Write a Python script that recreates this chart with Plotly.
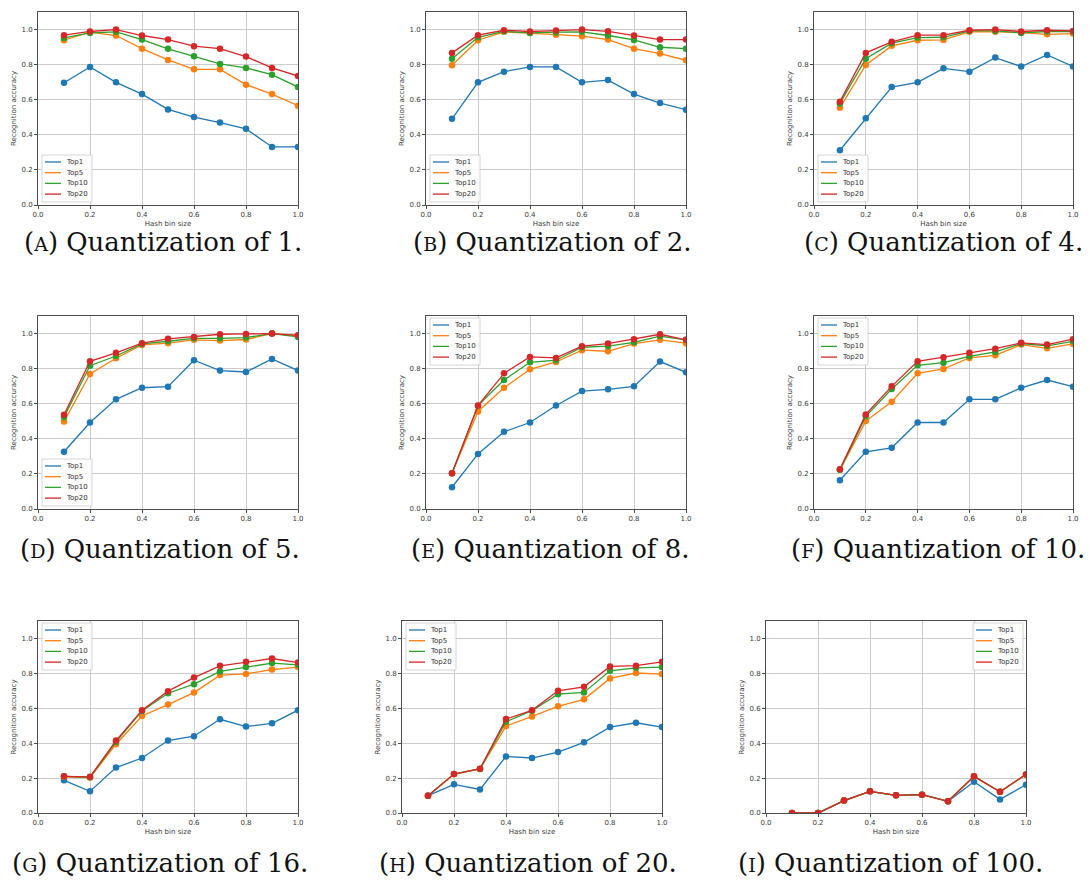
import plotly.graph_objects as go

# ---------------- data ----------------
hash_bin_sizes = [0.1, 0.2, 0.3, 0.4, 0.5, 0.6, 0.7, 0.8, 0.9, 1.0]
series_names = ["Top1", "Top5", "Top10", "Top20"]
x_ticks = [0.0, 0.2, 0.4, 0.6, 0.8, 1.0]
y_ticks = [0.0, 0.2, 0.4, 0.6, 0.8, 1.0]
tick_labels = ["0.0", "0.2", "0.4", "0.6", "0.8", "1.0"]
panel_letters = ["A", "B", "C", "D", "E", "F", "G", "H", "I"]
quantizations = ["1", "2", "4", "5", "8", "10", "16", "20", "100"]

# Quantization of 1
q1_top1 = [0.697, 0.787, 0.699, 0.632, 0.545, 0.501, 0.470, 0.434, 0.331, 0.331]
q1_top5 = [0.939, 0.985, 0.966, 0.891, 0.827, 0.773, 0.773, 0.686, 0.632, 0.566]
q1_top10 = [0.952, 0.981, 0.987, 0.943, 0.890, 0.848, 0.804, 0.781, 0.743, 0.672]
q1_top20 = [0.968, 0.989, 1.000, 0.966, 0.943, 0.905, 0.891, 0.846, 0.781, 0.735]
# Quantization of 2
q2_top1 = [0.491, 0.699, 0.760, 0.787, 0.787, 0.699, 0.712, 0.632, 0.581, 0.543]
q2_top5 = [0.796, 0.939, 0.987, 0.981, 0.971, 0.962, 0.943, 0.891, 0.863, 0.825]
q2_top10 = [0.834, 0.956, 0.990, 0.981, 0.985, 0.987, 0.966, 0.941, 0.899, 0.891]
q2_top20 = [0.867, 0.968, 0.996, 0.989, 0.994, 1.000, 0.990, 0.966, 0.943, 0.943]
# Quantization of 4
q4_top1 = [0.312, 0.495, 0.672, 0.699, 0.779, 0.760, 0.840, 0.789, 0.855, 0.790]
q4_top5 = [0.554, 0.798, 0.907, 0.939, 0.941, 0.987, 0.987, 0.983, 0.973, 0.977]
q4_top10 = [0.579, 0.834, 0.922, 0.954, 0.956, 0.992, 0.992, 0.981, 0.989, 0.989]
q4_top20 = [0.589, 0.867, 0.930, 0.968, 0.968, 0.996, 1.000, 0.989, 0.996, 0.992]
# Quantization of 5
q5_top1 = [0.326, 0.493, 0.625, 0.691, 0.697, 0.848, 0.789, 0.781, 0.855, 0.789]
q5_top5 = [0.499, 0.770, 0.859, 0.935, 0.945, 0.964, 0.960, 0.966, 1.000, 0.989]
q5_top10 = [0.524, 0.817, 0.872, 0.941, 0.956, 0.973, 0.973, 0.977, 1.000, 0.981]
q5_top20 = [0.537, 0.842, 0.890, 0.945, 0.970, 0.981, 0.996, 0.998, 1.000, 0.990]
# Quantization of 8
q8_top1 = [0.124, 0.314, 0.440, 0.493, 0.590, 0.672, 0.682, 0.699, 0.840, 0.779]
q8_top5 = [0.204, 0.556, 0.691, 0.796, 0.838, 0.905, 0.899, 0.943, 0.964, 0.945]
q8_top10 = [0.204, 0.589, 0.735, 0.836, 0.848, 0.922, 0.928, 0.950, 0.985, 0.964]
q8_top20 = [0.204, 0.590, 0.773, 0.867, 0.861, 0.928, 0.943, 0.968, 0.996, 0.964]
# Quantization of 10
q10_top1 = [0.164, 0.326, 0.349, 0.493, 0.493, 0.625, 0.625, 0.691, 0.735, 0.697]
q10_top5 = [0.223, 0.501, 0.611, 0.773, 0.798, 0.861, 0.876, 0.937, 0.916, 0.941]
q10_top10 = [0.223, 0.528, 0.684, 0.819, 0.834, 0.870, 0.895, 0.943, 0.930, 0.956]
q10_top20 = [0.227, 0.539, 0.699, 0.842, 0.865, 0.890, 0.914, 0.947, 0.937, 0.968]
# Quantization of 16
q16_top1 = [0.187, 0.124, 0.260, 0.315, 0.415, 0.440, 0.537, 0.495, 0.514, 0.589]
q16_top5 = [0.207, 0.203, 0.394, 0.556, 0.621, 0.690, 0.790, 0.797, 0.822, 0.836]
q16_top10 = [0.210, 0.205, 0.407, 0.585, 0.686, 0.738, 0.811, 0.836, 0.859, 0.849]
q16_top20 = [0.210, 0.207, 0.415, 0.589, 0.698, 0.776, 0.843, 0.866, 0.885, 0.862]
# Quantization of 20
q20_top1 = [0.099, 0.164, 0.135, 0.324, 0.315, 0.349, 0.405, 0.492, 0.517, 0.492]
q20_top5 = [0.099, 0.223, 0.252, 0.498, 0.553, 0.611, 0.651, 0.771, 0.802, 0.796]
q20_top10 = [0.099, 0.223, 0.252, 0.523, 0.586, 0.681, 0.691, 0.815, 0.832, 0.836]
q20_top20 = [0.099, 0.223, 0.254, 0.538, 0.588, 0.700, 0.723, 0.840, 0.844, 0.866]
# Quantization of 100
q100_top1 = [0.0, 0.0, 0.071, 0.124, 0.101, 0.105, 0.067, 0.179, 0.078, 0.162]
q100_top5 = [0.0, 0.0, 0.071, 0.124, 0.101, 0.105, 0.067, 0.210, 0.122, 0.221]
q100_top10 = [0.0, 0.0, 0.071, 0.124, 0.101, 0.105, 0.067, 0.210, 0.122, 0.221]
q100_top20 = [0.0, 0.0, 0.071, 0.124, 0.101, 0.105, 0.067, 0.210, 0.122, 0.221]

panel_series = [
    [q1_top1, q1_top5, q1_top10, q1_top20],
    [q2_top1, q2_top5, q2_top10, q2_top20],
    [q4_top1, q4_top5, q4_top10, q4_top20],
    [q5_top1, q5_top5, q5_top10, q5_top20],
    [q8_top1, q8_top5, q8_top10, q8_top20],
    [q10_top1, q10_top5, q10_top10, q10_top20],
    [q16_top1, q16_top5, q16_top10, q16_top20],
    [q20_top1, q20_top5, q20_top10, q20_top20],
    [q100_top1, q100_top5, q100_top10, q100_top20],
]

# ---------------- layout / style ----------------
W, H = 1090, 889
colors = ["#1f77b4", "#ff7f0e", "#2ca02c", "#d62728"]
# axes boxes in pixels: (left, right, top, bottom)
axes_px = [
    (38, 298, 12, 205), (426, 686, 12, 205), (814, 1073, 12, 205),
    (38, 298, 316, 509), (426, 686, 316, 509), (814, 1073, 316, 509),
    (38, 298, 621, 813), (402, 662, 621, 813), (766, 1026, 621, 813),
]
legend_corner = ["ll", "ll", "ll", "ll", "ul", "ul", "ul", "ul", "ur"]
show_xtitle = [True, True, True, False, False, False, True, True, True]
caption_y = [242, 242, 242, 549, 549, 549, 863, 863, 863]
# (x position, anchor) of each caption
caption_pos = [(163, "center"), (552, "center"), (1085, "right"),
               (160, "center"), (550, "center"), (1087, "right"),
               (160, "center"), (528, "center"), (890, "center")]


def px(x):
    return x / W


def py(y):
    return 1 - y / H


fig = go.Figure()
shapes = []
annotations = []
tick_font = dict(family="DejaVu Sans", size=7, color="#3a3a3a")

for i, (series_list, box) in enumerate(zip(panel_series, axes_px)):
    n = "" if i == 0 else str(i + 1)
    xa, ya = "x" + n, "y" + n
    l, r, t, b = box
    for name, vals, col in zip(series_names, series_list, colors):
        fig.add_trace(go.Scatter(
            x=hash_bin_sizes, y=vals, mode="lines", name=name,
            line=dict(color=col, width=1.3), xaxis=xa, yaxis=ya,
            showlegend=False, legendgroup=name))
        fig.add_trace(go.Scatter(
            x=hash_bin_sizes, y=vals, mode="markers", name=name,
            marker=dict(color=col, size=6.5), xaxis=xa, yaxis=ya,
            showlegend=False, legendgroup=name, hoverinfo="skip"))

    axis_common = dict(
        showgrid=True, gridcolor="#cccccc", gridwidth=0.8,
        showline=True, mirror=True, linecolor="#4d4d4d", linewidth=1,
        ticks="outside", ticklen=3, tickcolor="#4d4d4d", tickwidth=0.8,
        tickfont=tick_font, zeroline=False, automargin=False,
    )
    fig.layout["xaxis" + n] = dict(
        axis_common, domain=[px(l), px(r)], range=[0, 1.0], anchor=ya,
        tickvals=x_ticks, ticktext=tick_labels,
        title=dict(text="Hash bin size" if show_xtitle[i] else "",
                   font=dict(family="DejaVu Sans", size=7, color="#3a3a3a"),
                   standoff=2),
    )
    fig.layout["yaxis" + n] = dict(
        axis_common, domain=[py(b), py(t)], range=[0, 1.1], anchor=xa,
        tickvals=y_ticks, ticktext=tick_labels,
        title=dict(text="Recognition accuracy",
                   font=dict(family="DejaVu Sans", size=7, color="#3a3a3a"),
                   standoff=4),
    )

    # legend box (drawn manually so it keeps matplotlib's compact spacing)
    bw, bh = 50, 47
    corner = legend_corner[i]
    if corner == "ll":
        bl, bt = l + 4, b - 3 - bh
    elif corner == "ul":
        bl, bt = l + 4, t + 2
    else:
        bl, bt = r - 3 - bw, t + 2
    shapes.append(dict(type="rect", xref="paper", yref="paper",
                       x0=px(bl), x1=px(bl + bw), y0=py(bt + bh), y1=py(bt),
                       fillcolor="rgba(255,255,255,0.85)",
                       line=dict(color="#cccccc", width=0.8), layer="above"))
    for k, (name, col) in enumerate(zip(series_names, colors)):
        yy = bt + 7 + k * 10.7
        shapes.append(dict(type="line", xref="paper", yref="paper",
                           x0=px(bl + 3), x1=px(bl + 19), y0=py(yy), y1=py(yy),
                           line=dict(color=col, width=1.3), layer="above"))
        annotations.append(dict(text=name, xref="paper", yref="paper",
                                x=px(bl + 22), y=py(yy), xanchor="left",
                                yanchor="middle", showarrow=False,
                                font=dict(family="DejaVu Sans", size=7,
                                          color="#333333")))

    # caption
    cx, canchor = caption_pos[i]
    annotations.append(dict(
        text="(<span style='font-size:19px'>%s</span>) Quantization of %s."
             % (panel_letters[i], quantizations[i]),
        xref="paper", yref="paper", x=px(cx), y=py(caption_y[i]),
        xanchor=canchor, yanchor="middle", showarrow=False,
        font=dict(family="DejaVu Serif", size=26, color="#111111")))

fig.update_layout(
    width=W, height=H, margin=dict(l=0, r=0, t=0, b=0),
    paper_bgcolor="white", plot_bgcolor="white",
    shapes=shapes, annotations=annotations, showlegend=False,
)

# remove the browser's default 8px page margin so the figure fills the window
fig.write_html(
    "out.html",
    config={"displayModeBar": False},
    post_script=("document.body.style.margin='0';"
                 "document.body.style.overflow='hidden';"
                 "document.documentElement.style.overflow='hidden';"),
)
